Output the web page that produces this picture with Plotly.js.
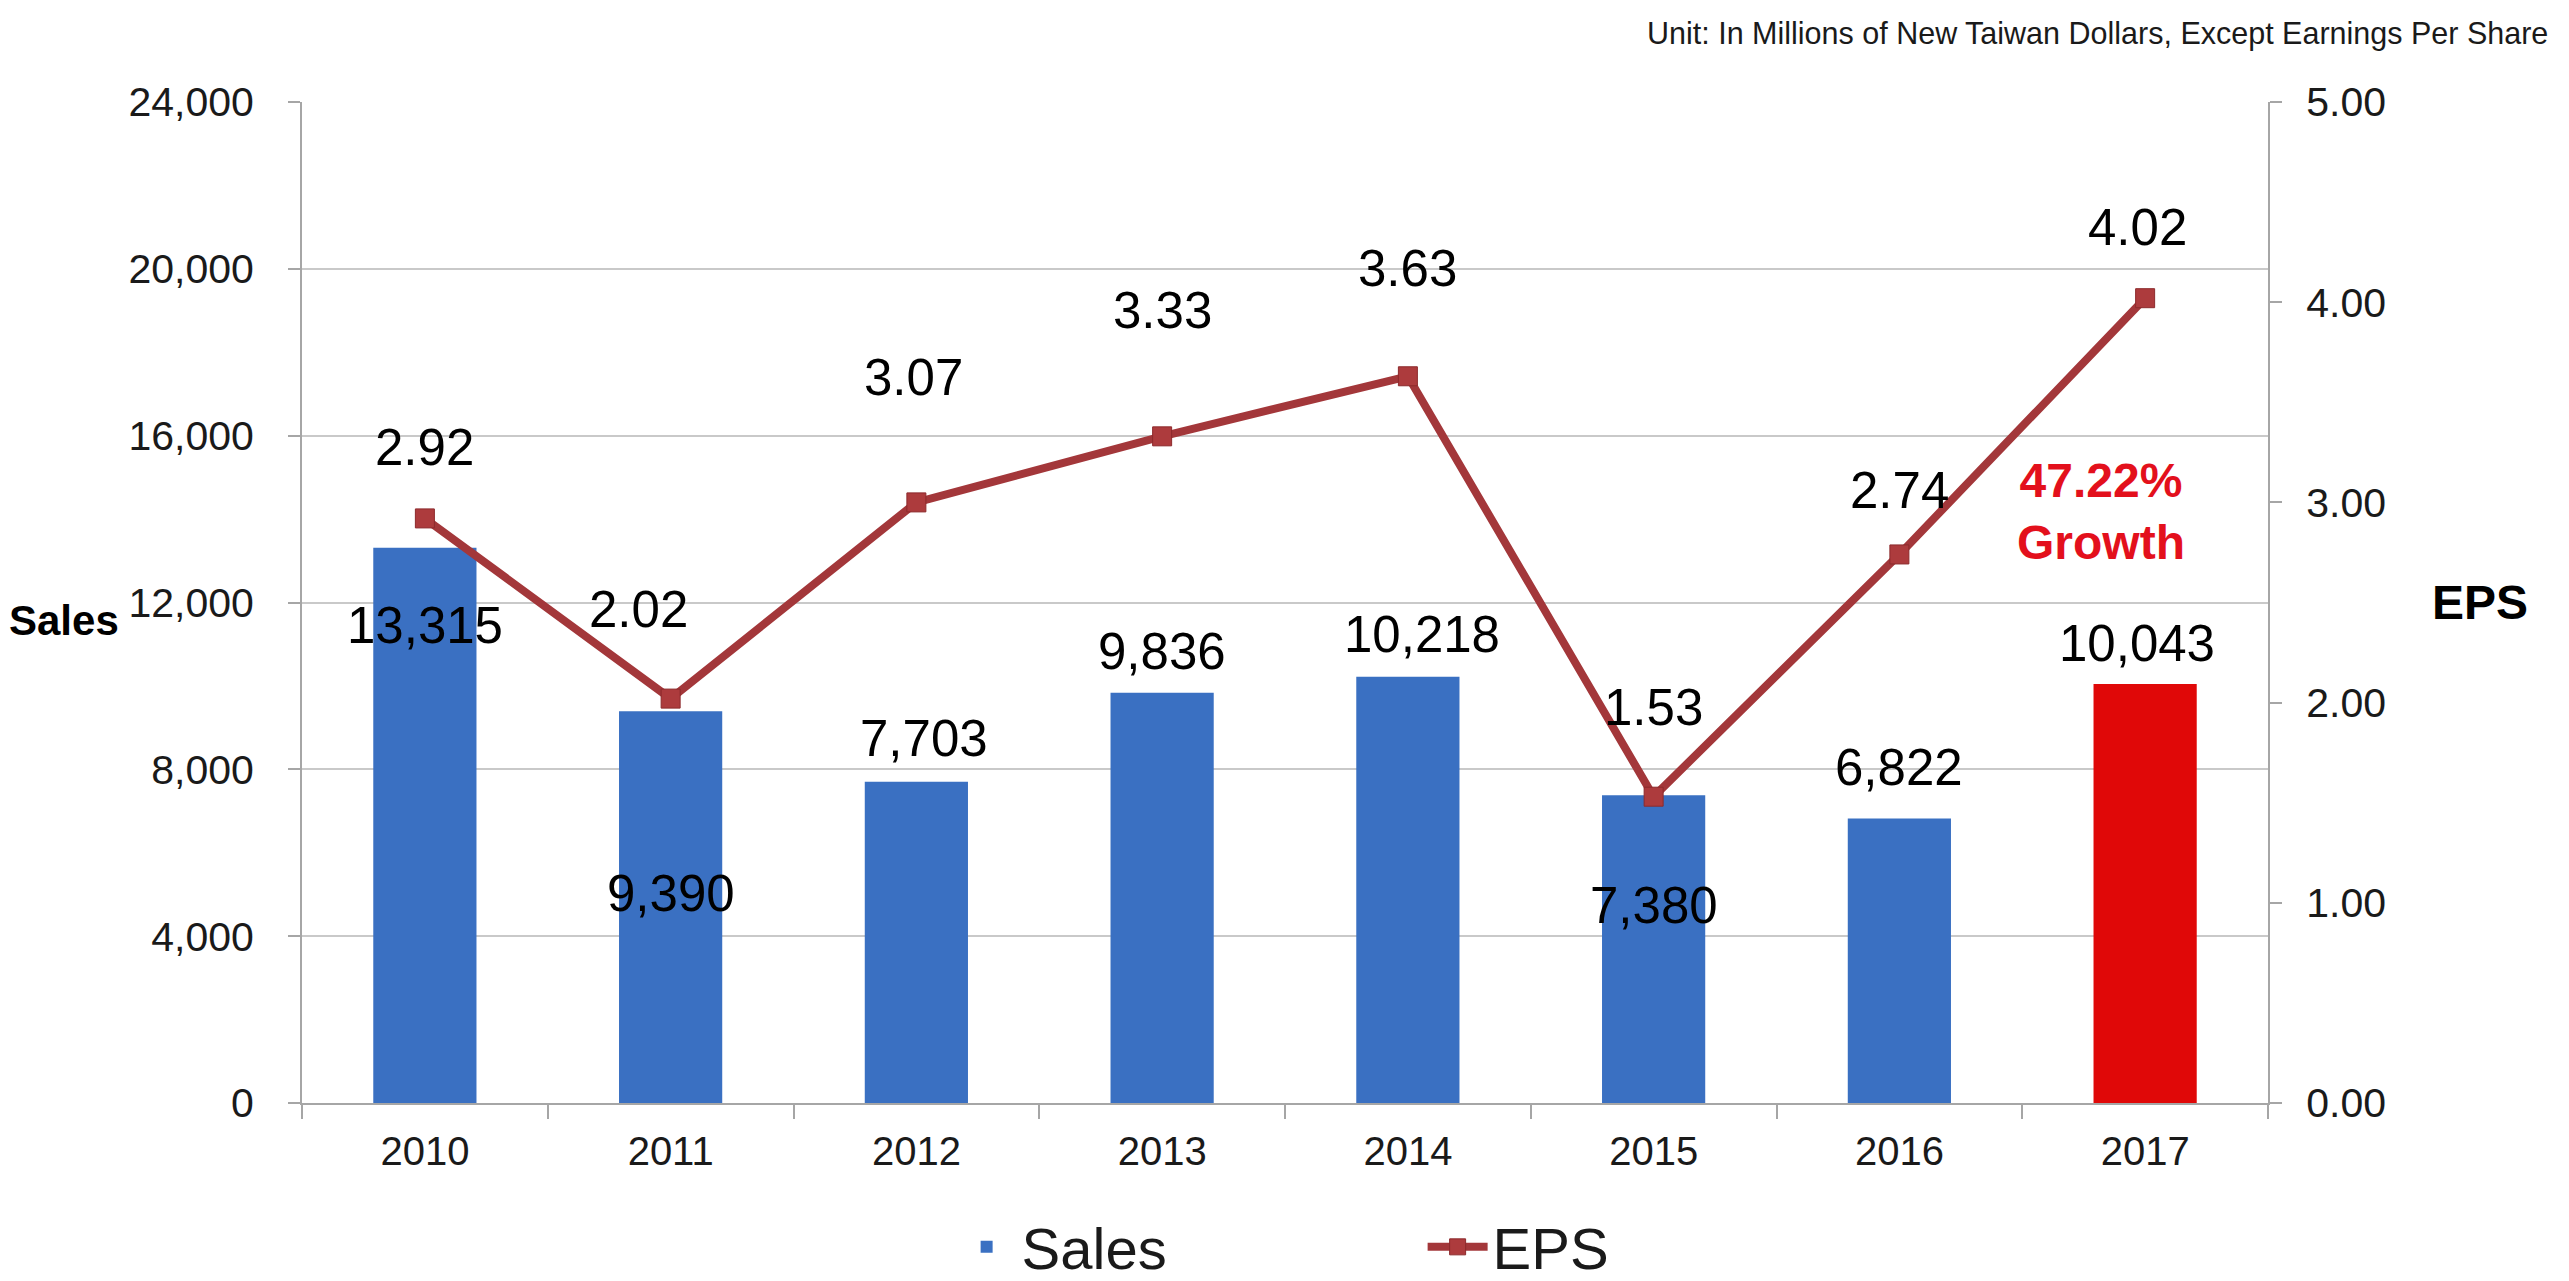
<!DOCTYPE html>
<html><head><meta charset="utf-8">
<script src="https://cdn.plot.ly/plotly-3.0.1.min.js"></script>
<style>html,body{margin:0;padding:0;background:#fff;} #chart{width:2569px;height:1281px;}</style>
</head><body><div id="chart"></div>
<script>
// ---- data ----
const years = ['2010','2011','2012','2013','2014','2015','2016','2017'];
const sales = [13315, 9390, 7703, 9836, 10218, 7380, 6822, 10043];
const eps = [2.92, 2.02, 3.00, 3.33, 3.63, 1.53, 2.74, 4.02];
const salesLabels = ['13,315','9,390','7,703','9,836','10,218','7,380','6,822','10,043'];
const epsLabels = ['2.92','2.02','3.07','3.33','3.63','1.53','2.74','4.02'];
const salesTicks = [0, 4000, 8000, 12000, 16000, 20000, 24000];
const epsTicks = [0, 1, 2, 3, 4, 5];
const highlightYear = '2017';
const growthText = '47.22%<br>Growth';
const unitText = 'Unit: In Millions of New Taiwan Dollars, Except Earnings Per Share';
const salesTitle = 'Sales';
const epsTitle = 'EPS';

// ---- label placement (pixel offsets from each data point) ----
const salesLabelDy = [-78, -182, 43, 41, 42, -110, 51, 41];
const salesLabelDx = [0, 0, 8, 0, 14, 0, 0, -8];
const epsLabelDy = [71, 89, 125, 126, 108, 89, 64, 71];
const epsLabelDx = [0, -32, -3, 0, 0, 0, 0, -8];

const BLUE = '#3a70c2';
const RED = '#e00808';
const LINE = '#a3373a';
const AXIS = '#a6a6a6';
const TXT = '#1a1a1a';
const FONT = 'Arial, "Liberation Sans", sans-serif';

const barColors = years.map(y => y === highlightYear ? RED : BLUE);

const traces = [
  {
    type: 'bar', name: 'Sales', x: years, y: sales,
    marker: {color: barColors, line: {width: 0}},
    hoverinfo: 'skip'
  },
  {
    type: 'scatter', mode: 'lines+markers', name: 'EPS', x: years, y: eps, yaxis: 'y2',
    line: {color: LINE, width: 8},
    marker: {symbol: 'square', size: 19, color: '#ad3b3d', line: {color: '#8c2a2c', width: 1}},
    hoverinfo: 'skip'
  }
];

const annotations = [];
years.forEach((yr, i) => {
  annotations.push({
    xref: 'x', yref: 'y', x: i, y: sales[i], text: salesLabels[i], showarrow: false,
    xanchor: 'center', yanchor: 'middle', xshift: salesLabelDx[i], yshift: salesLabelDy[i],
    font: {family: FONT, size: 51, color: '#000'}
  });
  annotations.push({
    xref: 'x', yref: 'y2', x: i, y: eps[i], text: epsLabels[i], showarrow: false,
    xanchor: 'center', yanchor: 'middle', xshift: epsLabelDx[i], yshift: epsLabelDy[i],
    font: {family: FONT, size: 51, color: '#000'}
  });
});
annotations.push({
  xref: 'x', yref: 'paper', x: years.indexOf(highlightYear), y: 0.591, xshift: -44, text: growthText, showarrow: false,
  xanchor: 'center', yanchor: 'middle', align: 'center',
  font: {family: FONT, size: 48, color: '#e3101c', weight: 'bold'}
});
annotations.push({
  xref: 'paper', yref: 'paper', x: -0.121, y: 0.482, text: '<b>' + salesTitle + '</b>', showarrow: false,
  xanchor: 'center', yanchor: 'middle', font: {family: FONT, size: 42, color: '#000'}
});
annotations.push({
  xref: 'paper', yref: 'paper', x: 1.108, y: 0.50, text: '<b>' + epsTitle + '</b>', showarrow: false,
  xanchor: 'center', yanchor: 'middle', font: {family: FONT, size: 48, color: '#000'}
});
annotations.push({
  xref: 'paper', yref: 'paper', x: 1.1434, y: 1.0686, text: unitText, showarrow: false,
  xanchor: 'right', yanchor: 'middle', font: {family: FONT, size: 30.5, color: TXT}
});

const layout = {
  width: 2569, height: 1281,
  margin: {l: 302, r: 301, t: 102, b: 178, pad: 0, autoexpand: false},
  paper_bgcolor: '#ffffff', plot_bgcolor: '#ffffff',
  font: {family: FONT, color: TXT},
  bargap: 0.58,
  showlegend: true,
  legend: {
    orientation: 'h', x: 0.57, xanchor: 'center', y: -0.144, yanchor: 'middle',
    font: {family: '"Liberation Sans Narrow", "Arial Narrow", Arial, sans-serif', size: 58, color: TXT},
    entrywidth: 396, itemwidth: 60, traceorder: 'normal'
  },
  xaxis: {
    type: 'category', range: [-0.5, years.length - 0.5], autorange: false, automargin: false,
    showline: true, linecolor: AXIS, linewidth: 2,
    ticks: 'outside', tickson: 'boundaries', ticklen: 14, tickcolor: AXIS, tickwidth: 2,
    tickfont: {family: FONT, size: 40, color: TXT}, tickangle: 0, ticklabelstandoff: 12,
    showgrid: false, zeroline: false, fixedrange: true
  },
  yaxis: {
    range: [0, 24000], autorange: false, tickvals: salesTicks, tickformat: ',d', automargin: false,
    showline: true, linecolor: AXIS, linewidth: 2,
    ticks: 'outside', ticklen: 12, tickcolor: AXIS, tickwidth: 2,
    showgrid: true, gridcolor: '#c9c9c9', gridwidth: 2, zeroline: false,
    tickfont: {family: FONT, size: 41, color: TXT}, ticklabelstandoff: 26, fixedrange: true
  },
  yaxis2: {
    range: [0, 5], autorange: false, tickvals: epsTicks, tickformat: '.2f', overlaying: 'y', side: 'right', automargin: false,
    showline: true, linecolor: AXIS, linewidth: 2,
    ticks: 'outside', ticklen: 12, tickcolor: AXIS, tickwidth: 2,
    showgrid: false, zeroline: false,
    tickfont: {family: FONT, size: 41, color: TXT}, ticklabelstandoff: 16, fixedrange: true
  },
  annotations: annotations
};

Plotly.newPlot('chart', traces, layout, {staticPlot: true, displayModeBar: false});
</script>
</body></html>
